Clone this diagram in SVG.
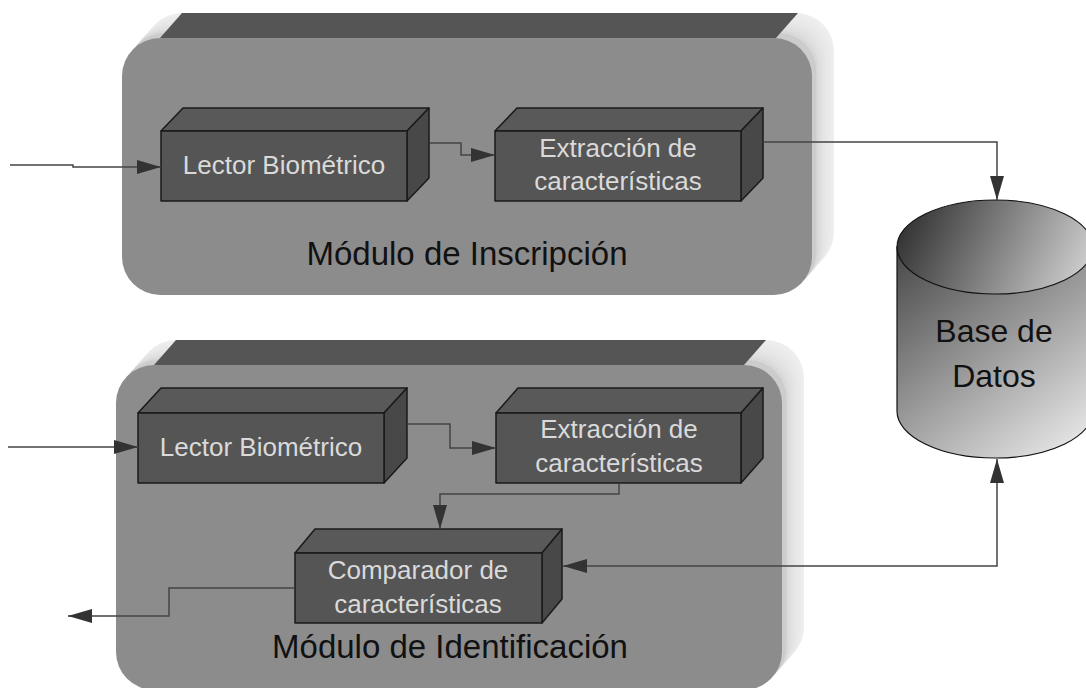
<svg xmlns="http://www.w3.org/2000/svg" width="1086" height="688" viewBox="0 0 1086 688">
<style>
.front{fill:#8c8c8c}
.topband{fill:#555555}
.e1{fill:#eeeeee}.e2{fill:#ececec}.e3{fill:#eaeaea}.e4{fill:#e8e8e8}.e5{fill:#e5e5e5}.e6{fill:#e2e2e2}.e7{fill:#dedede}.e8{fill:#d8d8d8}.e9{fill:#cccccc}
.bf{fill:#555555;stroke:#1a1a1a;stroke-width:1.5;stroke-linejoin:round}
.bt{fill:#595959;stroke:#1a1a1a;stroke-width:1.5;stroke-linejoin:round}
.br{fill:#484848;stroke:#1a1a1a;stroke-width:1.5;stroke-linejoin:round}
.bl{font-family:"Liberation Sans",Arial,sans-serif;font-size:26px;fill:#dadada;text-anchor:middle}
.ml{font-family:"Liberation Sans",Arial,sans-serif;font-size:33px;fill:#111;text-anchor:middle}
.dl{font-family:"Liberation Sans",Arial,sans-serif;font-size:32px;fill:#111;text-anchor:middle}
.cn{fill:none;stroke:#444;stroke-width:1.5}
</style>
<defs>
<marker id="ah" markerUnits="userSpaceOnUse" markerWidth="24" markerHeight="16" refX="24" refY="8" orient="auto">
<path d="M0,1 L24,8 L0,15 z" fill="#333"/>
</marker>
<marker id="ahs" markerUnits="userSpaceOnUse" markerWidth="24" markerHeight="16" refX="0" refY="8" orient="auto">
<path d="M24,1 L0,8 L24,15 z" fill="#333"/>
</marker>
<linearGradient id="cyl" gradientUnits="userSpaceOnUse" x1="897" y1="220" x2="1086" y2="460">
<stop offset="0" stop-color="#3a3a3a"/>
<stop offset="1" stop-color="#f0f0f0"/>
</linearGradient>
<linearGradient id="cyltop" gradientUnits="userSpaceOnUse" x1="905" y1="205" x2="1086" y2="290">
<stop offset="0" stop-color="#2e2e2e"/>
<stop offset="1" stop-color="#d4d4d4"/>
</linearGradient>
<rect id="fr1" width="690" height="257" rx="38"/>
<rect id="fr2" width="666" height="325" rx="38"/>
</defs>
<rect width="1086" height="688" fill="#ffffff"/>

<g id="modulo-inscripcion">
<use href="#fr1" class="e1" x="144" y="13"/>
<use href="#fr1" class="e2" x="141.8" y="15.5"/>
<use href="#fr1" class="e3" x="139.6" y="18"/>
<use href="#fr1" class="e4" x="137.4" y="20.5"/>
<use href="#fr1" class="e5" x="135.2" y="23"/>
<use href="#fr1" class="e6" x="133" y="25.5"/>
<use href="#fr1" class="e7" x="130.8" y="28"/>
<use href="#fr1" class="e8" x="128.6" y="30.5"/>
<use href="#fr1" class="e9" x="126.4" y="33"/>
<polygon class="topband" points="160,38 182,13 798,13 776,38"/>
<use href="#fr1" class="front" x="122" y="38"/>
<text class="ml" x="467" y="265">Módulo de Inscripción</text>
</g>

<g id="modulo-identificacion">
<use href="#fr2" class="e1" x="138" y="340"/>
<use href="#fr2" class="e2" x="135.8" y="342.5"/>
<use href="#fr2" class="e3" x="133.6" y="345"/>
<use href="#fr2" class="e4" x="131.4" y="347.5"/>
<use href="#fr2" class="e5" x="129.2" y="350"/>
<use href="#fr2" class="e6" x="127" y="352.5"/>
<use href="#fr2" class="e7" x="124.8" y="355"/>
<use href="#fr2" class="e8" x="122.6" y="357.5"/>
<use href="#fr2" class="e9" x="120.4" y="360"/>
<polygon class="topband" points="154,365 176,340 766,340 744,365"/>
<use href="#fr2" class="front" x="116" y="365"/>
<text class="ml" x="450" y="658">Módulo de Identificación</text>
</g>

<g id="lector-1">
<polygon class="bt" points="161,131 183,108 429,108 407,131"/>
<polygon class="br" points="407,131 429,108 429,178 407,201"/>
<rect class="bf" x="161" y="131" width="246" height="70"/>
<text class="bl" x="284" y="174">Lector Biométrico</text>
</g>

<g id="extraccion-1">
<polygon class="bt" points="495,131 517,108 763,108 741,131"/>
<polygon class="br" points="741,131 763,108 763,178 741,201"/>
<rect class="bf" x="495" y="131" width="246" height="70"/>
<text class="bl" x="618" y="157">Extracción de</text>
<text class="bl" x="618" y="190">características</text>
</g>

<g id="lector-2">
<polygon class="bt" points="138,413 161,388 407,388 384,413"/>
<polygon class="br" points="384,413 407,388 407,458 384,483"/>
<rect class="bf" x="138" y="413" width="246" height="70"/>
<text class="bl" x="261" y="456">Lector Biométrico</text>
</g>

<g id="extraccion-2">
<polygon class="bt" points="496,413 518,388 763,388 741,413"/>
<polygon class="br" points="741,413 763,388 763,458 741,483"/>
<rect class="bf" x="496" y="413" width="245" height="70"/>
<text class="bl" x="619" y="438">Extracción de</text>
<text class="bl" x="619" y="472">características</text>
</g>

<g id="comparador">
<polygon class="bt" points="295,553 315,529 562,529 542,553"/>
<polygon class="br" points="542,553 562,529 562,599 542,623"/>
<rect class="bf" x="295" y="553" width="247" height="70"/>
<text class="bl" x="418" y="579">Comparador de</text>
<text class="bl" x="418" y="613">características</text>
</g>

<g id="base-datos">
<path d="M897,247 V411 A98,47 0 0 0 1093,411 V247 Z" fill="url(#cyl)" stroke="#111" stroke-width="1.2"/>
<ellipse cx="995" cy="247" rx="98" ry="47" fill="url(#cyltop)" stroke="#111" stroke-width="1.2"/>
<text class="dl" x="994" y="342">Base de</text>
<text class="dl" x="994" y="387">Datos</text>
</g>

<g id="connectors">
<path class="cn" d="M10,165 H73 V167 H161" marker-end="url(#ah)"/>
<path class="cn" d="M430,143 H461 V155 H495" marker-end="url(#ah)"/>
<path class="cn" d="M763,142 H997 V200" marker-end="url(#ah)"/>
<path class="cn" d="M8,447 H138" marker-end="url(#ah)"/>
<path class="cn" d="M407,424 H450 V448 H496" marker-end="url(#ah)"/>
<path class="cn" d="M619,483 V494 H440 V529" marker-end="url(#ah)"/>
<path class="cn" d="M563,566 H997 V459" marker-start="url(#ahs)" marker-end="url(#ah)"/>
<path class="cn" d="M295,588 H169 V616 H68" marker-end="url(#ah)"/>
</g>
</svg>
